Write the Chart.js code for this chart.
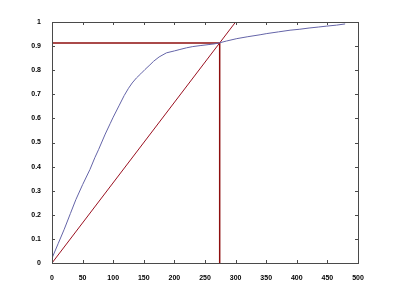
<!DOCTYPE html>
<html>
<head>
<meta charset="utf-8">
<script src="https://cdn.jsdelivr.net/npm/chart.js@4"></script>
<style>html,body{margin:0;padding:0;background:#fff;}canvas{display:block;}</style>
</head>
<body>
<canvas id="c" width="396" height="297"></canvas>
<script>
// Blue curve (cumulative fraction)
const curveX = [0, 10, 20, 30, 39, 50, 62, 70, 76, 87, 95, 100, 110, 118, 125, 131, 138, 145, 152, 160, 166, 175, 187, 200, 209, 220, 230, 242, 255, 265, 273, 285, 302, 320, 340, 351, 370, 389, 405, 420, 435, 449, 465, 479];
const curveY = [0.02, 0.08, 0.14, 0.205, 0.263, 0.325, 0.388, 0.437, 0.47, 0.535, 0.578, 0.605, 0.655, 0.695, 0.725, 0.747, 0.768, 0.785, 0.803, 0.822, 0.837, 0.855, 0.872, 0.88, 0.886, 0.893, 0.898, 0.902, 0.906, 0.909, 0.913, 0.921, 0.931, 0.939, 0.947, 0.952, 0.959, 0.966, 0.97, 0.975, 0.979, 0.983, 0.987, 0.992];
// Red reference lines
const diagX = [0, 300];
const diagY = [0, 1];
const cutX = [274];
const cutY = [0.913];
// Axis ticks
const xTicks = [0, 50, 100, 150, 200, 250, 300, 350, 400, 450, 500];
const yTicks = [0, 0.1, 0.2, 0.3, 0.4, 0.5, 0.6, 0.7, 0.8, 0.9, 1];

const pts = (xs, ys) => xs.map((x, i) => ({x: x, y: ys[i]}));

const boxPlugin = {
  id: 'box',
  afterDraw(chart) {
    const {ctx, chartArea: a, scales} = chart;
    ctx.save();
    ctx.strokeStyle = '#4a4a4a';
    ctx.lineWidth = 1;
    ctx.strokeRect(Math.round(a.left) + 0.5, Math.round(a.top) + 0.5, Math.round(a.right - a.left), Math.round(a.bottom - a.top));
    const L = 3;
    ctx.beginPath();
    xTicks.forEach(v => {
      const px = Math.round(scales.x.getPixelForValue(v)) + 0.5;
      ctx.moveTo(px, a.bottom); ctx.lineTo(px, a.bottom - L);
      ctx.moveTo(px, a.top); ctx.lineTo(px, a.top + L);
    });
    yTicks.forEach(v => {
      const py = Math.round(scales.y.getPixelForValue(v)) + 0.5;
      ctx.moveTo(a.left, py); ctx.lineTo(a.left + L, py);
      ctx.moveTo(a.right, py); ctx.lineTo(a.right - L, py);
    });
    ctx.stroke();
    ctx.restore();
  }
};

new Chart(document.getElementById('c'), {
  type: 'scatter',
  data: {
    datasets: [
      {data: pts(curveX, curveY), showLine: true, borderColor: '#6464a8', borderWidth: 1, pointRadius: 0, tension: 0},
      {data: pts(diagX, diagY), showLine: true, borderColor: '#9a1020', borderWidth: 1, pointRadius: 0},
      {data: [{x: 0, y: cutY[0]}, {x: cutX[0], y: cutY[0]}], showLine: true, borderColor: '#8e0e0e', borderWidth: 1.5, pointRadius: 0},
      {data: [{x: cutX[0], y: 0}, {x: cutX[0], y: cutY[0]}], showLine: true, borderColor: '#8e0e0e', borderWidth: 1.5, pointRadius: 0}
    ]
  },
  options: {
    responsive: false,
    animation: false,
    events: [],
    layout: {padding: {top: 22, right: 38, left: 0, bottom: 0}},
    plugins: {legend: {display: false}, tooltip: {enabled: false}},
    scales: {
      x: {
        type: 'linear', min: 0, max: 500,
        afterBuildTicks: s => { s.ticks = xTicks.map(v => ({value: v})); },
        afterFit: s => { s.height = 34; },
        grid: {display: false},
        border: {display: false},
        ticks: {padding: 3, color: '#000', font: {family: 'Liberation Sans', size: 7, weight: 'bold'}, maxRotation: 0}
      },
      y: {
        type: 'linear', min: 0, max: 1,
        afterBuildTicks: s => { s.ticks = yTicks.map(v => ({value: v})); },
        afterFit: s => { s.width = 52; },
        grid: {display: false},
        border: {display: false},
        ticks: {padding: 3, color: '#000', font: {family: 'Liberation Sans', size: 7, weight: 'bold'},
          callback: v => (v === 0 || v === 1) ? String(v) : v.toFixed(1)}
      }
    }
  },
  plugins: [boxPlugin]
});
</script>
</body>
</html>
